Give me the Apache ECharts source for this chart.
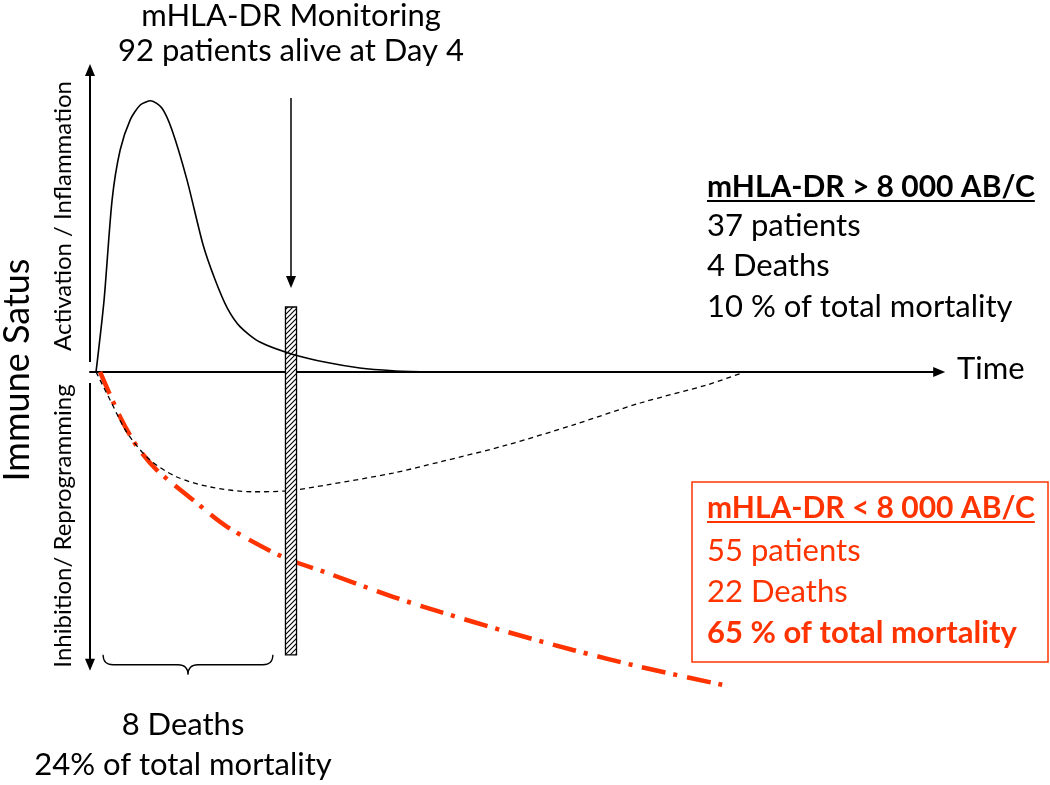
<!DOCTYPE html>
<html><head><meta charset="utf-8">
<script src="https://cdn.jsdelivr.net/npm/echarts@6/dist/echarts.min.js"></script>
<style>html,body{margin:0;padding:0;background:#fff}#c{width:1050px;height:785px}</style>
</head><body><div id="c"></div>
<script>
// ---------- data (x = time in days, y = immune status, arbitrary units) ----------
const monitoringDay = 4;
const activationCurve = [[0.12,0],[0.28,2.38],[0.44,5.70],[0.60,7.35],[0.80,8.35],[1.00,8.84],[1.21,8.98],[1.43,8.74],[1.63,8.02],[1.93,6.36],[2.25,4.21],[2.49,3.05],[2.73,2.12],[2.99,1.49],[3.38,0.99],[4.04,0.58],[4.72,0.31],[5.37,0.13],[6.03,0.04],[6.71,0]];
const recoveryCurve = [[0.12,0],[0.40,-0.93],[0.74,-2.02],[1.19,-2.91],[1.73,-3.48],[2.39,-3.81],[3.24,-3.97],[3.92,-3.94],[4.72,-3.74],[6.03,-3.35],[6.97,-2.98],[8.30,-2.42],[9.61,-1.76],[10.95,-1.03],[12.28,-0.43],[13.03,0]];
const persistentCurve = [[0.20,0],[0.60,-1.49],[0.94,-2.48],[1.33,-3.25],[2.05,-4.24],[2.73,-5.13],[3.84,-6.13],[4.72,-6.66],[6.03,-7.45],[6.97,-7.95],[8.30,-8.61],[9.61,-9.21],[10.95,-9.77],[12.60,-10.37]];
const earlyWindow = [0.26, 3.64];
const topTitle = ['mHLA-DR Monitoring', '92 patients alive at Day 4'];
const highGroup = ['mHLA-DR > 8 000 AB/C', '37 patients', '4 Deaths', '10 % of total mortality'];
const lowGroup = ['mHLA-DR < 8 000 AB/C', '55 patients', '22 Deaths', '65 % of total mortality'];
const earlyDeaths = ['8 Deaths', '24% of total mortality'];
const axisTexts = ['Immune Satus', 'Activation / Inflammation', 'Inhibition/ Reprogramming', 'Time'];

// ---------- styles ----------
const FONT = 'Lato';
const RED = '#FF3300';
const FS = 31;
const FSB = 30;

function textWidth(t, weight, size) {
  const c = document.createElement('canvas').getContext('2d');
  c.font = weight + ' ' + size + 'px ' + FONT;
  return c.measureText(t).width;
}

const pc = document.createElement('canvas');
pc.width = 5; pc.height = 5;
const g = pc.getContext('2d');
g.fillStyle = '#fff'; g.fillRect(0, 0, 5, 5);
g.strokeStyle = '#000'; g.lineWidth = 1.1;
g.beginPath();
g.moveTo(-1, 6); g.lineTo(6, -1);
g.moveTo(-3.5, 3.5); g.lineTo(3.5, -3.5);
g.moveTo(1.5, 8.5); g.lineTo(8.5, 1.5);
g.stroke();
const hatch = { image: pc, repeat: 'repeat' };

const chart = echarts.init(document.getElementById('c'), null, { renderer: 'canvas' });

const graphics = [];
function addText(t, x, y, opts) {
  graphics.push(Object.assign({
    type: 'text', x: x, y: y, silent: true,
    style: Object.assign({ text: t, fontFamily: FONT, fontSize: FS, fill: '#000', align: 'left', verticalAlign: 'middle' }, opts.style || {})
  }, opts.el || {}));
}
// top title
addText(topTitle[0], 291, 16, { style: { align: 'center', fontSize: 31 } });
addText(topTitle[1], 291, 51, { style: { align: 'center', fontSize: 31 } });
// left axis texts
addText(axisTexts[0], 17, 370, { style: { align: 'center', fontSize: 36 }, el: { rotation: Math.PI / 2 } });
addText(axisTexts[1], 63, 216, { style: { align: 'center', fontSize: 24 }, el: { rotation: Math.PI / 2 } });
addText(axisTexts[2], 63, 526, { style: { align: 'center', fontSize: 24 }, el: { rotation: Math.PI / 2 } });
addText(axisTexts[3], 957, 369, { style: { fontSize: 31 } });
// high group block
const ys1 = [187, 226, 266, 307];
highGroup.forEach((t, i) => addText(t, 707, ys1[i], { style: { fontWeight: i === 0 ? 'bold' : 'normal', fontSize: i === 0 ? FSB : FS } }));
const w1 = textWidth(highGroup[0], 'bold', FSB);
graphics.push({ type: 'line', silent: true, shape: { x1: 707, y1: 201, x2: 707 + w1, y2: 201 }, style: { stroke: '#000', lineWidth: 2 } });
// low group block
const ys2 = [508, 551, 592, 633];
lowGroup.forEach((t, i) => addText(t, 707, ys2[i], { style: { fill: RED, fontWeight: (i === 0 || i === 3) ? 'bold' : 'normal', fontSize: i === 0 ? FSB : FS } }));
const w2 = textWidth(lowGroup[0], 'bold', FSB);
graphics.push({ type: 'line', silent: true, shape: { x1: 707, y1: 522, x2: 707 + w2, y2: 522 }, style: { stroke: RED, lineWidth: 2 } });
graphics.push({ type: 'rect', silent: true, shape: { x: 692, y: 482, width: 356, height: 180 }, style: { fill: 'none', stroke: RED, lineWidth: 1.5 } });
// early deaths
addText(earlyDeaths[0], 183, 725, { style: { align: 'center', fontSize: 31 } });
addText(earlyDeaths[1], 183, 765, { style: { align: 'center', fontSize: 31 } });

const option = {
  animation: false,
  backgroundColor: '#fff',
  grid: { left: 90, top: 70, width: 849.2, height: 634 },
  xAxis: {
    type: 'value', min: 0, max: 16.9,
    axisLine: { show: true, onZero: true, symbol: ['none', 'triangle'], symbolSize: [10, 12], lineStyle: { color: '#000', width: 2 } },
    axisTick: { show: false }, axisLabel: { show: false }, splitLine: { show: false }
  },
  yAxis: {
    type: 'value', min: -11, max: 10,
    axisLine: { show: false }, axisTick: { show: false }, axisLabel: { show: false }, splitLine: { show: false }
  },
  series: [
    {
      type: 'line', data: persistentCurve, smooth: 0.3, symbol: 'none', z: 2, clip: false,
      lineStyle: { color: RED, width: 4.5, type: [24, 8, 4, 10] }, silent: true
    },
    {
      type: 'line', data: recoveryCurve, smooth: 0.3, symbol: 'none', z: 2, clip: false,
      lineStyle: { color: '#000', width: 1.3, type: [5, 4] }, silent: true,
      markLine: {
        silent: true, symbol: ['none', 'triangle'], symbolSize: [10, 12],
        label: { show: false },
        lineStyle: { color: '#000', width: 2, type: 'solid' },
        data: [
          [{ coord: [0, 0.33] }, { coord: [0, 10] }],
          [{ coord: [0, -0.37] }, { coord: [0, -9.7] }],
          [{ coord: [monitoringDay, 9.07], lineStyle: { width: 1.5 } }, { coord: [monitoringDay, 2.98] }]
        ]
      }
    },
    {
      type: 'custom', z: 3, silent: true,
      data: [[monitoringDay]],
      renderItem: function (params, api) {
        const d = api.value(0);
        const p1 = api.coord([d - 0.11, 2.15]);
        const p2 = api.coord([d + 0.11, -9.37]);
        return {
          type: 'rect',
          shape: { x: p1[0], y: p1[1], width: p2[0] - p1[0], height: p2[1] - p1[1] },
          style: { fill: hatch, stroke: '#000', lineWidth: 1.3 }
        };
      }
    },
    {
      type: 'line', data: activationCurve, smooth: 0.25, symbol: 'none', z: 4, clip: false,
      lineStyle: { color: '#000', width: 1.6 }, silent: true
    },
    {
      type: 'custom', z: 3, silent: true,
      data: [earlyWindow],
      renderItem: function (params, api) {
        const a = api.coord([api.value(0), -9.37]);
        const b = api.coord([api.value(1), -9.37]);
        const mid = api.coord([(api.value(0) + api.value(1)) / 2, -9.7]);
        const tip = api.coord([(api.value(0) + api.value(1)) / 2, -10.03]);
        const ym = mid[1], xm = mid[0], r = 10;
        const d = 'M' + a[0] + ' ' + a[1] +
          ' Q' + a[0] + ' ' + ym + ' ' + (a[0] + r) + ' ' + ym +
          ' L' + (xm - r) + ' ' + ym +
          ' Q' + xm + ' ' + ym + ' ' + xm + ' ' + tip[1] +
          ' Q' + xm + ' ' + ym + ' ' + (xm + r) + ' ' + ym +
          ' L' + (b[0] - r) + ' ' + ym +
          ' Q' + b[0] + ' ' + ym + ' ' + b[0] + ' ' + b[1];
        return { type: 'path', shape: { pathData: d }, style: { fill: 'none', stroke: '#000', lineWidth: 1.3 } };
      }
    }
  ],
  graphic: graphics
};
chart.setOption(option);
</script>
</body></html>
